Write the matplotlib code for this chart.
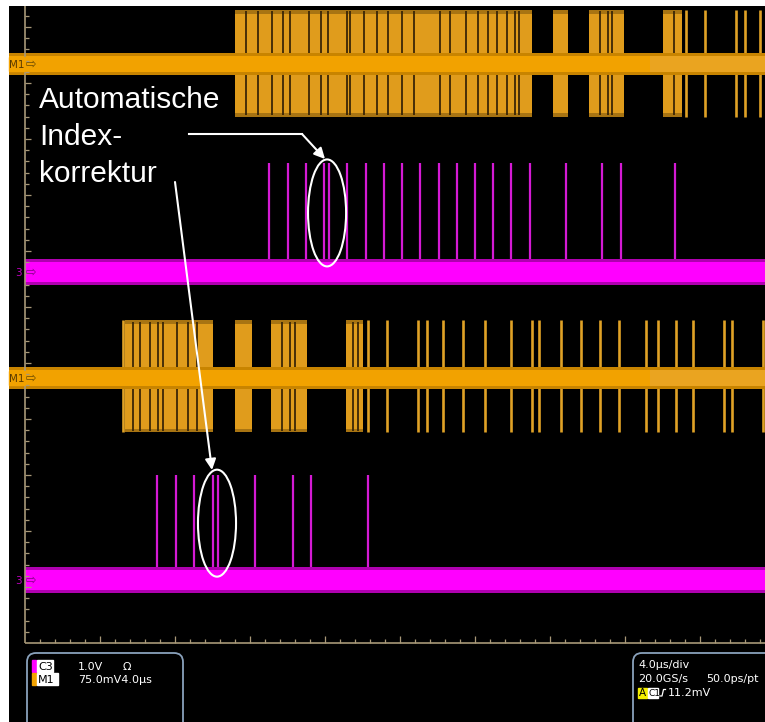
import matplotlib
matplotlib.use("Agg")
import matplotlib.pyplot as plt
from matplotlib.patches import Ellipse, FancyBboxPatch, Rectangle

# time in microseconds (4 us/div), vertical in divisions
# upper M1 trace: burst segments, dark gaps inside bursts, single spikes
m1a_bursts = [(11.20, 27.04), (28.16, 28.96), (30.08, 31.95), (34.03, 35.04)]
m1a_gaps = [11.79, 12.41, 13.16, 13.78, 14.13, 15.16, 15.79, 16.18, 17.16, 17.33,
            18.10, 18.76, 19.38, 20.09, 20.76, 22.13, 22.67, 23.52, 24.18, 24.71,
            25.16, 25.69, 26.13, 26.36, 30.67, 31.11, 31.32, 34.60]
m1a_spikes = [35.25, 36.27, 37.92, 38.40, 39.20]

# upper C3 trace spikes
c3a_spikes = [13.03, 14.01, 14.99, 15.96, 16.23, 17.19, 18.17, 19.13, 20.12, 21.08,
              22.06, 23.02, 24.02, 24.98, 25.92, 26.92, 28.85, 30.79, 31.77, 34.68]

# lower M1 trace
m1b_bursts = [(5.33, 10.03), (11.20, 12.09), (13.10, 15.02), (17.12, 18.04)]
m1b_gaps = [5.76, 6.13, 6.67, 7.09, 7.36, 8.09, 8.69, 9.16, 13.69, 14.13, 14.40,
            17.50, 17.75]
m1b_spikes = [5.21, 18.28, 19.29, 20.94, 21.42, 22.28, 23.34, 24.53, 25.90, 27.02,
              27.41, 28.57, 29.65, 30.67, 31.70, 33.12, 33.78, 34.70, 35.61, 37.30,
              37.69, 39.34]

# lower C3 trace spikes
c3b_spikes = [7.02, 8.04, 9.03, 10.04, 10.31, 12.27, 14.28, 15.25, 18.28]

# trace offsets (div)
M1A, C3A, M1B, C3B = 10.34, 6.625, 4.73, 1.125

ORANGE = '#f2a200'
BURST = '#e09c1c'
BURST_EDGE = '#a87412'
MAGENTA = '#ff00ff'

W, H = 765, 722
fig = plt.figure(figsize=(W / 100, H / 100), dpi=100, facecolor='white')
ax = fig.add_axes([9 / W, 0, 756 / W, 716 / H], facecolor='black')
xmin, xmax = (9 - 25) / 75 * 4, (765 - 25) / 75 * 4
ymin, ymax = (643 - 722) / 56, (643 - 6) / 56
ax.set_xlim(xmin, xmax)
ax.set_ylim(ymin, ymax)
ax.axis('off')
ax.add_patch(Rectangle((xmin, ymin), xmax - xmin, ymax - ymin, color='black', zorder=0))


def m1_trace(c, bursts, gaps, spikes, hi, lo):
    for s, e in bursts:
        ax.fill_between([s, e], c - lo, c + hi, color=BURST_EDGE, lw=0, zorder=2)
        ax.fill_between([s, e], c - lo + 0.07, c + hi - 0.07, color=BURST, lw=0, zorder=2)
    ax.vlines(gaps, c - lo + 0.03, c + hi - 0.03, color='#3a2606', lw=1.3, zorder=3)
    ax.vlines(spikes, c - lo, c + hi, color='#e0a226', lw=1.9, zorder=3)
    ax.fill_between([xmin, xmax], c - 0.2, c + 0.2, color='#c88400', lw=0, zorder=4)
    ax.fill_between([xmin, 33.33], c - 0.14, c + 0.14, color=ORANGE, lw=0, zorder=4)
    ax.fill_between([33.33, xmax], c - 0.14, c + 0.14, color='#eaa420', lw=0, zorder=4)


def c3_trace(c, spikes, height):
    ax.vlines(spikes, c, c + height, color='#d41ad4', lw=1.6, zorder=3)
    ax.fill_between([0, xmax], c - 0.23, c + 0.23, color='#b000b0', lw=0, zorder=4)
    ax.fill_between([0, xmax], c - 0.17, c + 0.17, color=MAGENTA, lw=0, zorder=4)


m1_trace(M1A, m1a_bursts, m1a_gaps, m1a_spikes, 0.97, 0.95)
c3_trace(C3A, c3a_spikes, 1.95)
m1_trace(M1B, m1b_bursts, m1b_gaps, m1b_spikes, 1.03, 0.97)
c3_trace(C3B, c3b_spikes, 1.88)

# graticule edges
grat = '#a89878'
ax.vlines(0, 0, ymax, color=grat, lw=1.2, zorder=5)
ax.hlines(0, 0, xmax, color=grat, lw=1.2, zorder=5)
for i in range(1, 50):
    x = i * 0.8
    ax.vlines(x, 0, 0.13 if i % 5 == 0 else 0.07, color=grat, lw=0.9, zorder=5)
for i in range(1, 57):
    y = i * 0.2
    ax.hlines(y, 0, 0.3 if i % 5 == 0 else 0.2, color=grat, lw=0.9, zorder=5)

# annotation ellipses
for xc, yc in [(16.11, 7.68), (10.24, 2.14)]:
    ax.add_patch(Ellipse((xc, yc), 2.03, 1.91, fill=False, ec='white', lw=1.5, zorder=6))

# overlay in pixel units for labels / info panels
ov = fig.add_axes([0, 0, 1, 1], facecolor='none')
ov.set_xlim(0, W)
ov.set_ylim(H, 0)
ov.axis('off')

# channel markers
for yc in [64, 378]:
    ov.add_patch(Rectangle((9, yc - 7), 16, 14, color=ORANGE, zorder=7))
    ov.text(9.5, yc + 0.5, 'M1', fontsize=7.5, color='#5a3a00', va='center', ha='left', zorder=8)
    ov.text(26, yc, '⇨', fontsize=9, color='#6a4a00', va='center', ha='left', zorder=8)
for yc in [272, 580]:
    ov.text(15, yc + 0.5, '3', fontsize=7.5, color='#c000c0', va='center', ha='left', zorder=8)
    ov.text(26, yc, '⇨', fontsize=9, color='#800080', va='center', ha='left', zorder=8)

# annotation text and arrows
font = 'Liberation Sans'
for txt, yb in [('Automatische', 108), ('Index-', 145), ('korrektur', 182)]:
    ov.text(39, yb, txt, fontsize=21.5, color='white', family=font, va='baseline', zorder=9)
ov.plot([189, 302], [134, 134], color='white', lw=1.5, zorder=9)
ov.annotate('', xy=(325, 159), xytext=(302, 134),
            arrowprops=dict(arrowstyle='-|>', color='white', lw=1.5, mutation_scale=16,
                            shrinkA=0, shrinkB=0), zorder=9)
ov.annotate('', xy=(212, 470), xytext=(175, 182),
            arrowprops=dict(arrowstyle='-|>', color='white', lw=1.5, mutation_scale=16,
                            shrinkA=0, shrinkB=0), zorder=9)

# info panels
box_c = '#8aa2bc'
ov.add_patch(FancyBboxPatch((27, 653), 156, 90, boxstyle='round,pad=0,rounding_size=9',
                            fc='black', ec=box_c, lw=1.3, zorder=7))
ov.add_patch(FancyBboxPatch((633, 653), 150, 90, boxstyle='round,pad=0,rounding_size=9',
                            fc='black', ec=box_c, lw=1.3, zorder=7))
fs = 8
info = 'DejaVu Sans'
ov.add_patch(Rectangle((32, 659.5), 4, 12, color=MAGENTA, zorder=8))
ov.add_patch(Rectangle((37, 659.5), 16, 12, color='white', zorder=8))
ov.text(38, 669.5, 'C3', fontsize=fs, color='black', family=info, zorder=9)
ov.text(78, 669.5, '1.0V', fontsize=fs, color='white', family=info, zorder=9)
ov.text(123, 669.5, 'Ω', fontsize=fs, color='white', family=info, zorder=9)
ov.add_patch(Rectangle((32, 673), 4, 12, color=ORANGE, zorder=8))
ov.add_patch(Rectangle((37, 673), 21, 12, color='white', zorder=8))
ov.text(38, 683, 'M1', fontsize=fs, color='black', family=info, zorder=9)
ov.text(78, 683, '75.0mV4.0µs', fontsize=fs, color='white', family=info, zorder=9)

ov.text(638, 668, '4.0µs/div', fontsize=fs, color='white', family=info, zorder=9)
ov.text(638, 682, '20.0GS/s', fontsize=fs, color='white', family=info, zorder=9)
ov.text(706, 682, '50.0ps/pt', fontsize=fs, color='white', family=info, zorder=9)
ov.add_patch(Rectangle((638, 688), 9, 10, color='#f5f000', zorder=8))
ov.text(638.5, 696.5, 'A', fontsize=fs - 0.5, color='black', family=info, zorder=9)
ov.add_patch(Rectangle((648, 688), 10, 10, color='white', zorder=8))
ov.text(648.3, 696.5, 'C1', fontsize=fs - 1.5, color='black', family=info, zorder=9)
ov.plot([660, 662, 663.5, 665.5], [696, 696, 689.5, 689.5], color='white', lw=0.9, zorder=9)
ov.text(668, 696.5, '11.2mV', fontsize=fs, color='white', family=info, zorder=9)

fig.savefig('out.png', dpi=100, facecolor='white')
